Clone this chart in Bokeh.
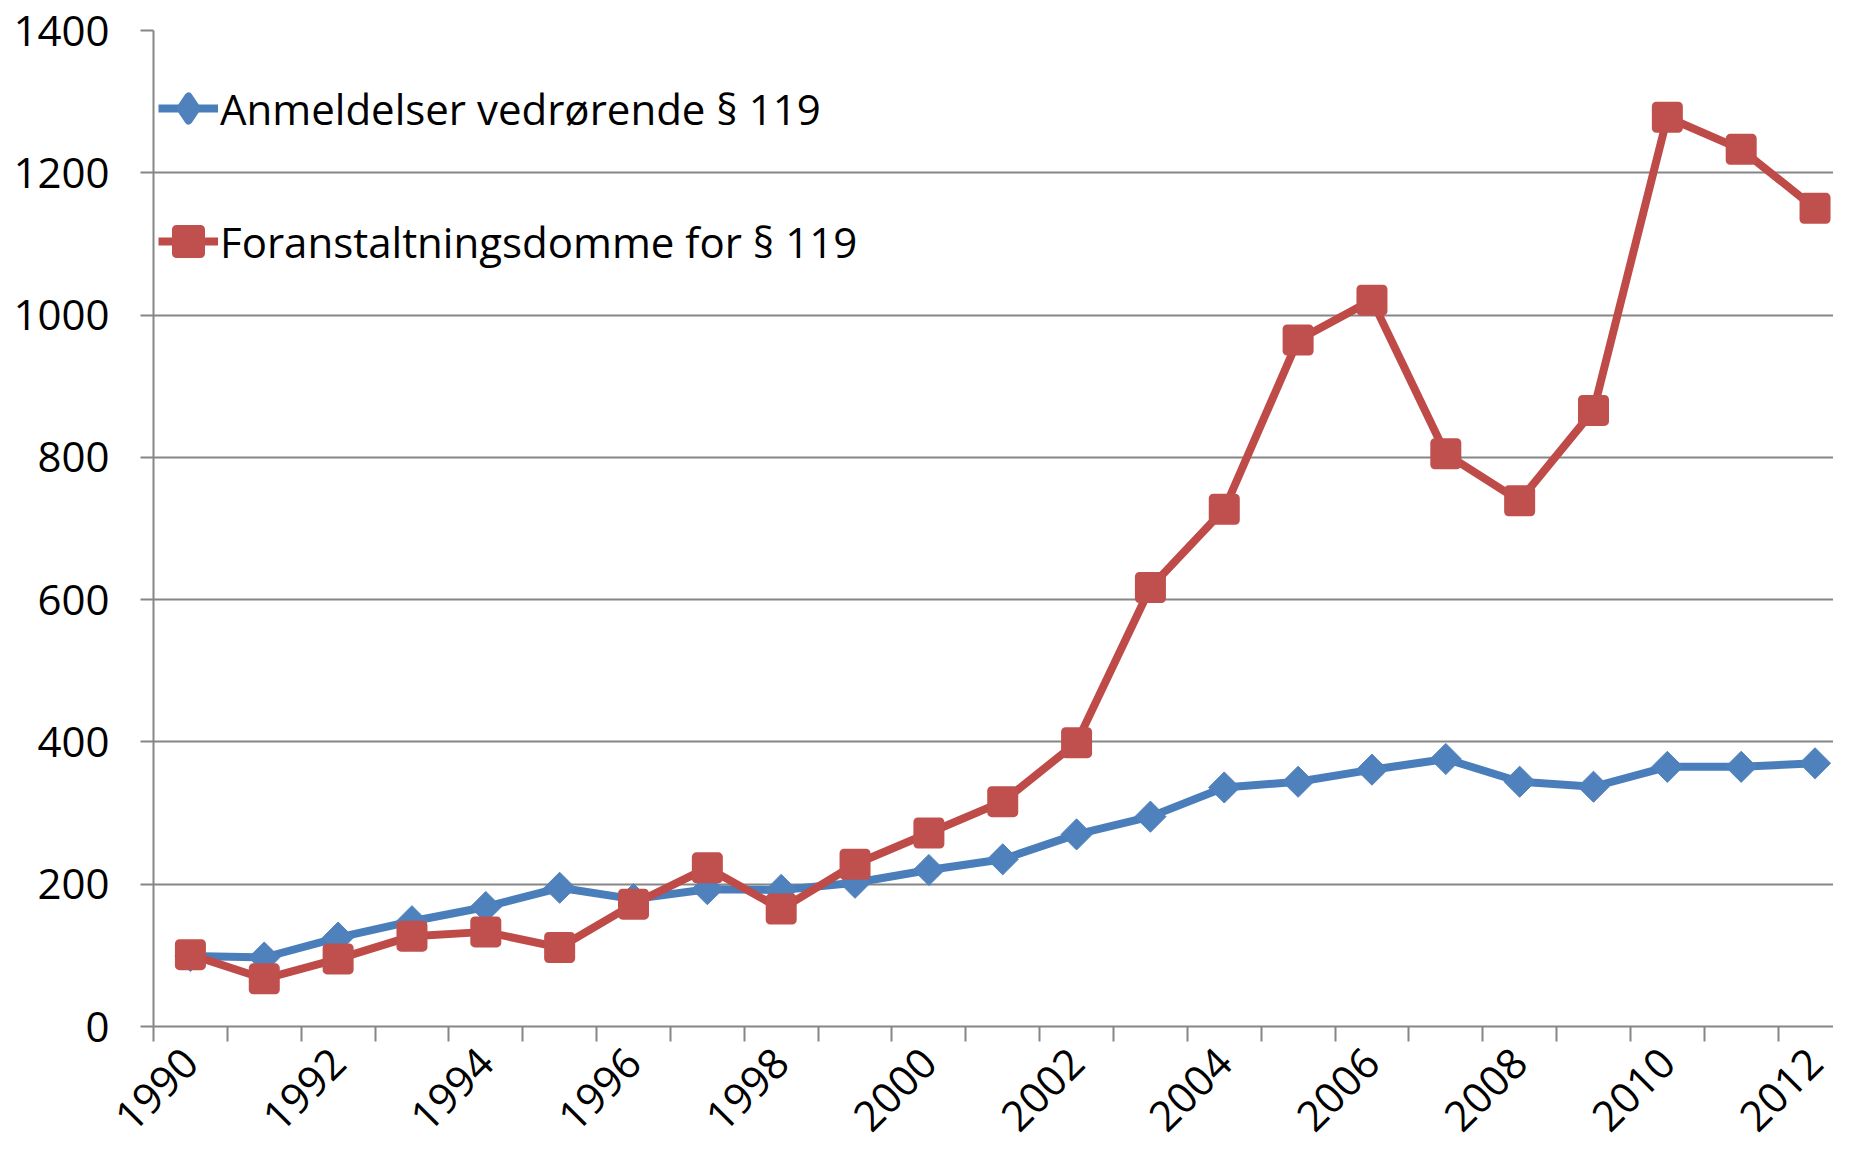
import math
from bokeh.plotting import figure
from bokeh.models import Range1d, FixedTicker, Legend, LegendItem, ColumnDataSource
from bokeh.embed import file_html
from bokeh.resources import INLINE

years = [1990, 1991, 1992, 1993, 1994, 1995, 1996, 1997, 1998, 1999, 2000, 2001,
         2002, 2003, 2004, 2005, 2006, 2007, 2008, 2009, 2010, 2011, 2012]
anmeldelser = [99, 97, 125, 148, 168, 195, 179, 193, 192, 202, 220, 235,
               270, 295, 336, 344, 361, 376, 344, 337, 365, 365, 370]
foranstaltningsdomme = [101, 67, 95, 127, 133, 111, 172, 223, 165, 228, 272, 316,
                        399, 617, 727, 965, 1021, 805, 739, 866, 1278, 1233, 1150]
series_names = ["Anmeldelser vedrørende § 119", "Foranstaltningsdomme for § 119"]
y_ticks = [0, 200, 400, 600, 800, 1000, 1200, 1400]
label_years = [1990, 1992, 1994, 1996, 1998, 2000, 2002, 2004, 2006, 2008, 2010, 2012]

FONT = "Open Sans"
GRAY = "#868686"
BLUE_LINE = "#4A7EBB"
BLUE_FILL = "#4F81BD"
RED_LINE = "#BE4B48"
RED_FILL = "#C0504D"

W, H = 1833, 1149
TOP, LEFT, BOTTOM = 30, 153, 123

src = ColumnDataSource(dict(year=years, a=anmeldelser, f=foranstaltningsdomme))

p = figure(width=W, height=H, output_backend="svg", toolbar_location=None,
           x_range=Range1d(years[0] - 0.5, years[-1] + 0.25),
           y_range=Range1d(y_ticks[0], y_ticks[-1]),
           min_border_left=LEFT, min_border_right=0, min_border_top=TOP,
           min_border_bottom=BOTTOM)
p.outline_line_color = None
p.background_fill_color = "white"
p.border_fill_color = "white"

# x axis: boundary tick marks (minor), labels centred on every other category
xa = p.xaxis[0]
xa.ticker = FixedTicker(ticks=label_years,
                        minor_ticks=[y - 0.5 for y in years] + [years[-1] + 0.5])
xa.major_tick_out = 0
xa.major_tick_in = 0
xa.minor_tick_out = 15
xa.minor_tick_in = 0
xa.minor_tick_line_color = GRAY
xa.minor_tick_line_width = 2
xa.axis_line_color = GRAY
xa.axis_line_width = 2
xa.major_label_orientation = math.pi / 4
xa.major_label_standoff = 14
xa.major_label_text_font = FONT
xa.major_label_text_font_size = "42px"
xa.major_label_text_color = "black"

ya = p.yaxis[0]
ya.ticker = FixedTicker(ticks=y_ticks)
ya.major_tick_out = 13
ya.major_tick_in = 0
ya.major_tick_line_color = GRAY
ya.major_tick_line_width = 2
ya.minor_tick_line_color = None
ya.axis_line_color = GRAY
ya.axis_line_width = 2
ya.major_label_standoff = 31
ya.major_label_text_font = FONT
ya.major_label_text_font_size = "42px"
ya.major_label_text_color = "black"

p.xgrid.visible = False
p.ygrid.ticker = FixedTicker(ticks=y_ticks)
p.ygrid.grid_line_color = GRAY
p.ygrid.grid_line_width = 2

l1 = p.line("year", "a", source=src, line_color=BLUE_LINE, line_width=8)
# small diamond hidden under each data marker; it supplies the legend's diamond
# (legend markers are drawn unrotated and at a size set by the legend)
d1 = p.scatter("year", "a", source=src, marker="diamond", size=10,
               fill_color=BLUE_FILL, line_color=BLUE_FILL, line_width=8,
               line_join="round")
m1 = p.scatter("year", "a", source=src, marker="square", size=22, angle=math.pi / 4,
               fill_color=BLUE_FILL, line_color=BLUE_FILL, line_width=1)
l2 = p.line("year", "f", source=src, line_color=RED_LINE, line_width=8)
m2 = p.scatter("year", "f", source=src, marker="square", size=22,
               fill_color=RED_FILL, line_color=RED_FILL, line_width=9,
               line_join="round")

frame_h = H - TOP - BOTTOM
item_h = 60
spacing = 73
legend_top = 48
legend = Legend(items=[LegendItem(label=series_names[0], renderers=[l1, d1]),
                       LegendItem(label=series_names[1], renderers=[l2, m2])],
                location=(5, frame_h - legend_top - (2 * item_h + spacing)),
                orientation="vertical",
                border_line_color=None, background_fill_alpha=0,
                padding=0, margin=0, spacing=spacing,
                glyph_width=60, glyph_height=60, label_height=item_h, label_standoff=2,
                label_text_font=FONT, label_text_font_size="42px", label_text_color="black",
                label_text_baseline="middle")
p.add_layout(legend)

open("out.html", "w").write(file_html(p, INLINE))
